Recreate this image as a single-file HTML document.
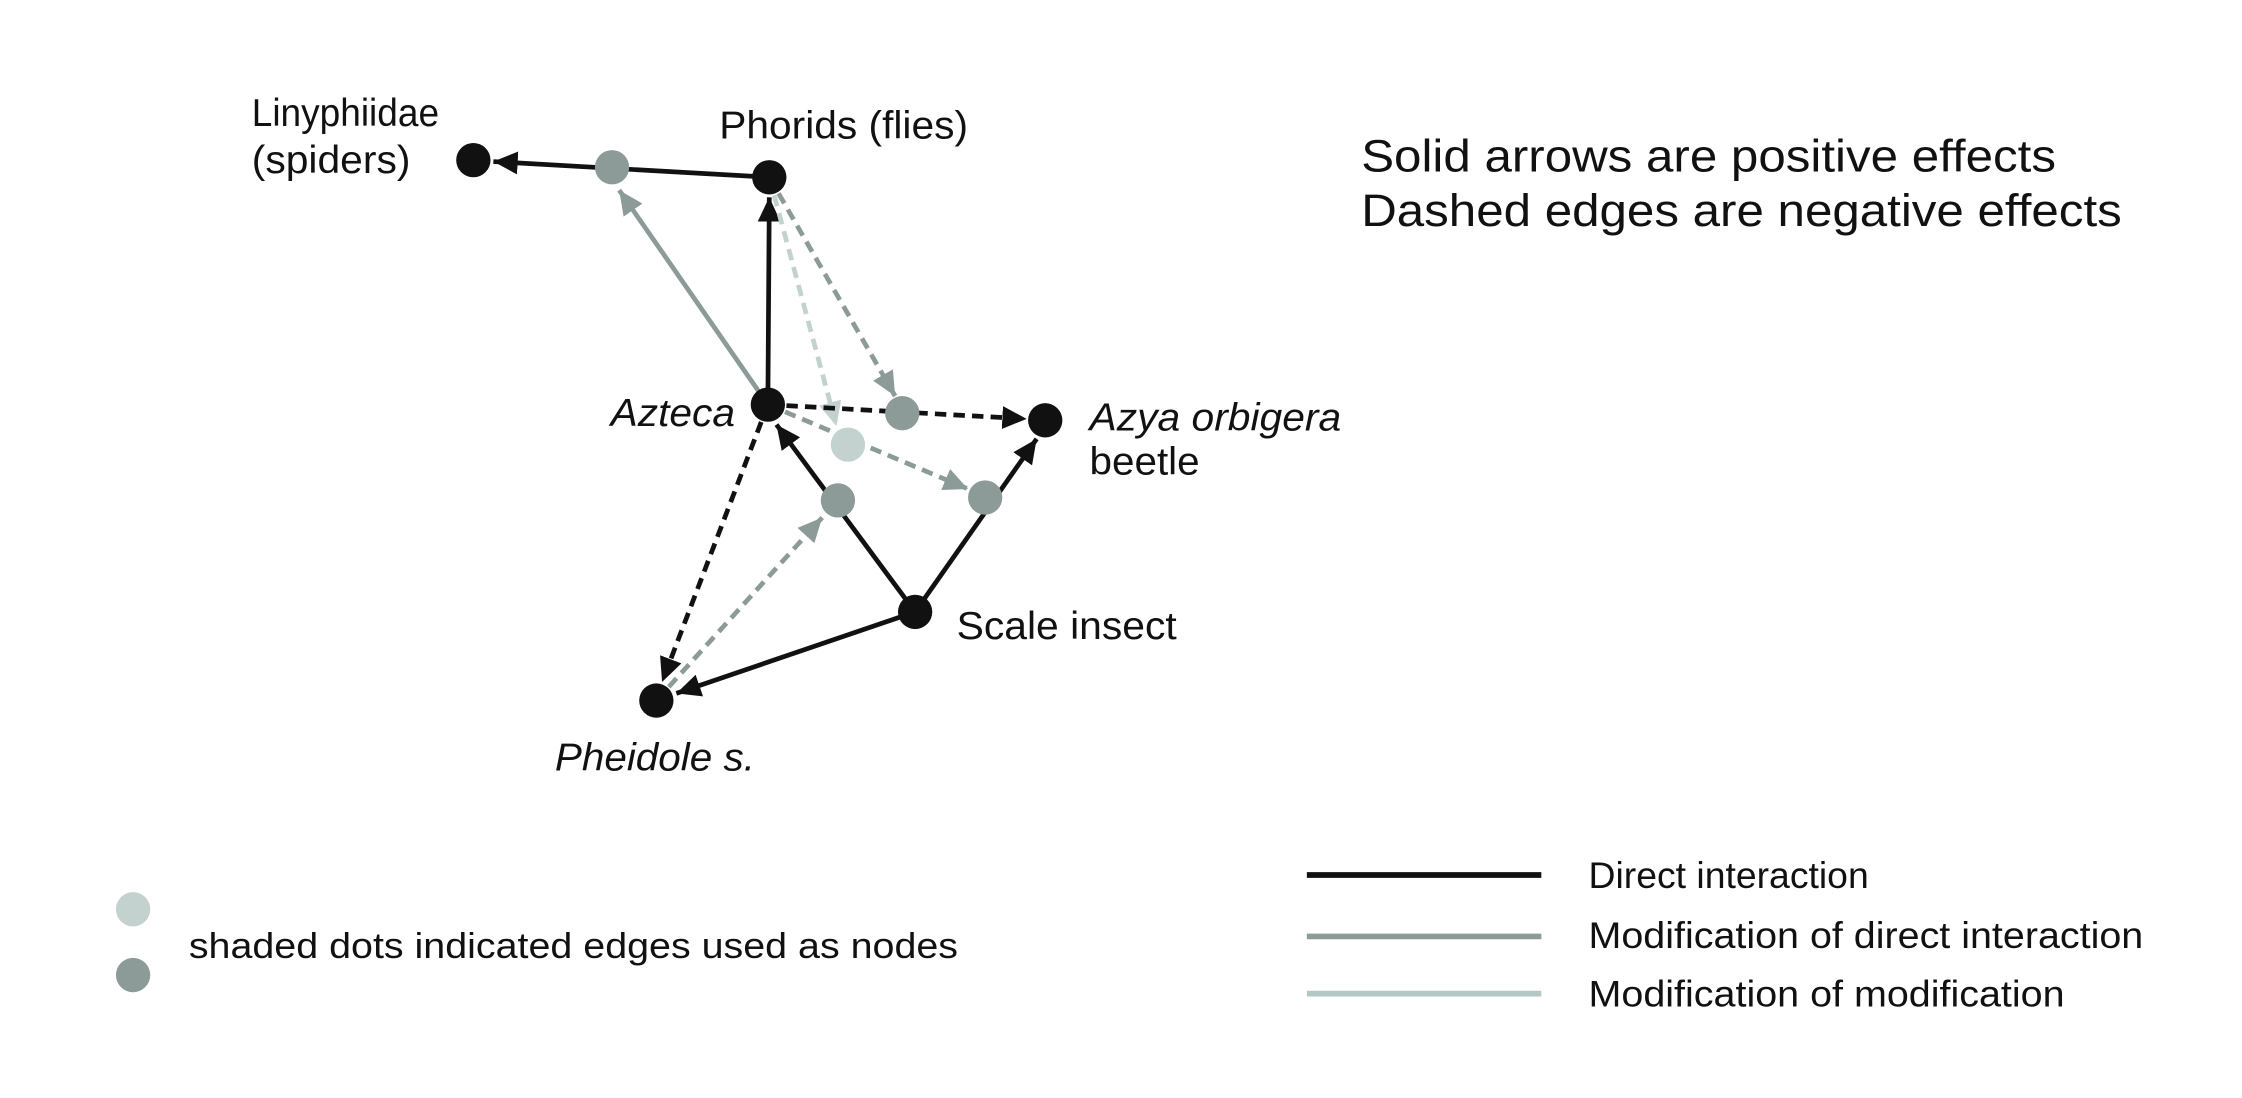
<!DOCTYPE html>
<html><head><meta charset="utf-8"><style>
html,body{margin:0;padding:0;background:#fff;}
svg{display:block;}
text{font-family:"Liberation Sans",sans-serif;fill:#111;}
</style></head><body>
<svg width="2242" height="1098" viewBox="0 0 1568 768" xmlns="http://www.w3.org/2000/svg">
<defs>
<marker id="mb" markerUnits="userSpaceOnUse" markerWidth="18" markerHeight="16" refX="17" refY="8" orient="auto"><path d="M0,0 L17,8 L0,16 z" fill="#111"/></marker>
<marker id="mg" markerUnits="userSpaceOnUse" markerWidth="18" markerHeight="16" refX="17" refY="8" orient="auto"><path d="M0,0 L17,8 L0,16 z" fill="#8c9b98"/></marker>
<marker id="ml" markerUnits="userSpaceOnUse" markerWidth="18" markerHeight="16" refX="17" refY="8" orient="auto"><path d="M0,0 L17,8 L0,16 z" fill="#c3d2cf"/></marker>
</defs>
<g fill="none" stroke-width="3.3">
<line x1="538" y1="124" x2="345" y2="113" stroke="#111" marker-end="url(#mb)"/>
<line x1="537" y1="283" x2="538" y2="138" stroke="#111" marker-end="url(#mb)"/>
<line x1="640" y1="428" x2="543" y2="297" stroke="#111" marker-end="url(#mb)"/>
<line x1="640" y1="428" x2="725" y2="307" stroke="#111" marker-end="url(#mb)"/>
<line x1="640" y1="428" x2="473" y2="485" stroke="#111" marker-end="url(#mb)"/>
<line x1="537" y1="283" x2="433" y2="133" stroke="#8c9b98" marker-end="url(#mg)"/>
<line x1="538" y1="124" x2="626" y2="277" stroke="#8c9b98" stroke-dasharray="8,5" marker-end="url(#mg)"/>
<line x1="538" y1="124" x2="585" y2="298" stroke="#c3d2cf" stroke-dasharray="8,5" marker-end="url(#ml)"/>
<line x1="537" y1="283" x2="718" y2="293" stroke="#111" stroke-dasharray="8,5" marker-end="url(#mb)"/>
<line x1="537" y1="283" x2="677" y2="342" stroke="#8c9b98" stroke-dasharray="8,5" marker-end="url(#mg)"/>
<line x1="537" y1="283" x2="463" y2="477" stroke="#111" stroke-dasharray="8,5" marker-end="url(#mb)"/>
<line x1="459" y1="490" x2="575" y2="362" stroke="#8c9b98" stroke-dasharray="8,5" marker-end="url(#mg)"/>
</g>
<g>
<circle cx="331" cy="112" r="12" fill="#111"/>
<circle cx="428" cy="117" r="12" fill="#8c9b98"/>
<circle cx="538" cy="124" r="12" fill="#111"/>
<circle cx="537" cy="283" r="12" fill="#111"/>
<circle cx="631" cy="289" r="12" fill="#8c9b98"/>
<circle cx="731" cy="294" r="12" fill="#111"/>
<circle cx="593" cy="311" r="12" fill="#c3d2cf"/>
<circle cx="586" cy="350" r="12" fill="#8c9b98"/>
<circle cx="689" cy="348" r="12" fill="#8c9b98"/>
<circle cx="640" cy="428" r="12" fill="#111"/>
<circle cx="459" cy="490" r="12" fill="#111"/>
<circle cx="93" cy="636" r="12" fill="#c3d2cf"/>
<circle cx="93" cy="682" r="12" fill="#8c9b98"/>
</g>
<g font-size="27">
<text x="176" y="88" textLength="131" lengthAdjust="spacingAndGlyphs">Linyphiidae</text>
<text x="176" y="121" textLength="111" lengthAdjust="spacingAndGlyphs">(spiders)</text>
<text x="503" y="97" textLength="174" lengthAdjust="spacingAndGlyphs">Phorids (flies)</text>
<text x="427" y="298" font-style="italic" textLength="87" lengthAdjust="spacingAndGlyphs">Azteca</text>
<text x="762" y="301" font-style="italic" textLength="176" lengthAdjust="spacingAndGlyphs">Azya orbigera</text>
<text x="762" y="332" textLength="77" lengthAdjust="spacingAndGlyphs">beetle</text>
<text x="669" y="447" textLength="154" lengthAdjust="spacingAndGlyphs">Scale insect</text>
<text x="388" y="539" font-style="italic" textLength="140" lengthAdjust="spacingAndGlyphs">Pheidole s.</text>
</g>
<g font-size="32">
<text x="952" y="120" textLength="486" lengthAdjust="spacingAndGlyphs">Solid arrows are positive effects</text>
<text x="952" y="158" textLength="532" lengthAdjust="spacingAndGlyphs">Dashed edges are negative effects</text>
</g>
<text x="132" y="670" font-size="25" textLength="538" lengthAdjust="spacingAndGlyphs">shaded dots indicated edges used as nodes</text>
<line x1="914" y1="612" x2="1078" y2="612" stroke="#111" stroke-width="4"/>
<line x1="914" y1="655" x2="1078" y2="655" stroke="#8c9b98" stroke-width="4"/>
<line x1="914" y1="695" x2="1078" y2="695" stroke="#b3c8c4" stroke-width="4"/>
<g font-size="26">
<text x="1111" y="621" textLength="196" lengthAdjust="spacingAndGlyphs">Direct interaction</text>
<text x="1111" y="663" textLength="388" lengthAdjust="spacingAndGlyphs">Modification of direct interaction</text>
<text x="1111" y="704" textLength="333" lengthAdjust="spacingAndGlyphs">Modification of modification</text>
</g>
</svg>
</body></html>
